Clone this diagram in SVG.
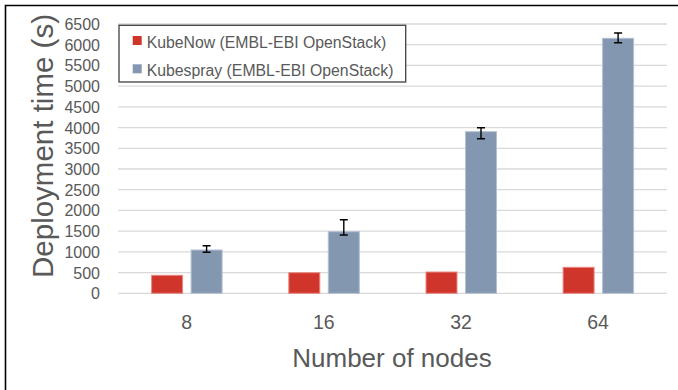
<svg xmlns="http://www.w3.org/2000/svg" width="678" height="390" viewBox="0 0 678 390">
<style>
.grid{stroke:#D9D9D9;stroke-width:1.3;fill:none}
.tick{font-family:"Liberation Sans",Arial,sans-serif;font-size:16px;fill:#595959;text-anchor:end}
.cat{font-family:"Liberation Sans",Arial,sans-serif;font-size:19.5px;fill:#595959;text-anchor:middle}
.title{font-family:"Liberation Sans",Arial,sans-serif;fill:#595959;text-anchor:middle}
.leg{font-family:"Liberation Sans",Arial,sans-serif;font-size:15.8px;fill:#595959}
.red{fill:#D0352B;stroke:#E98A83;stroke-width:1}
.blue{fill:#8497B0;stroke:#B3C0D1;stroke-width:1}
.err{stroke:#000;stroke-width:1.4;fill:none}
</style>
<rect x="0" y="0" width="678" height="390" fill="#fff"/>
<g id="frame">
<path d="M5.5 390 V5.5 H678" stroke="#000" stroke-width="1.6" fill="none"/>
</g>
<g id="gridlines">
<line class="grid" x1="118" x2="667" y1="293.3" y2="293.3"/>
<line class="grid" x1="118" x2="667" y1="272.6" y2="272.6"/>
<line class="grid" x1="118" x2="667" y1="251.9" y2="251.9"/>
<line class="grid" x1="118" x2="667" y1="231.2" y2="231.2"/>
<line class="grid" x1="118" x2="667" y1="210.4" y2="210.4"/>
<line class="grid" x1="118" x2="667" y1="189.7" y2="189.7"/>
<line class="grid" x1="118" x2="667" y1="169.0" y2="169.0"/>
<line class="grid" x1="118" x2="667" y1="148.3" y2="148.3"/>
<line class="grid" x1="118" x2="667" y1="127.6" y2="127.6"/>
<line class="grid" x1="118" x2="667" y1="106.9" y2="106.9"/>
<line class="grid" x1="118" x2="667" y1="86.1" y2="86.1"/>
<line class="grid" x1="118" x2="667" y1="65.4" y2="65.4"/>
<line class="grid" x1="118" x2="667" y1="44.7" y2="44.7"/>
<line class="grid" x1="118" x2="667" y1="24.0" y2="24.0"/>
</g>
<g id="y-ticks">
<text class="tick" x="100" y="299.3">0</text>
<text class="tick" x="100" y="278.6">500</text>
<text class="tick" x="100" y="257.9">1000</text>
<text class="tick" x="100" y="237.2">1500</text>
<text class="tick" x="100" y="216.4">2000</text>
<text class="tick" x="100" y="195.7">2500</text>
<text class="tick" x="100" y="175.0">3000</text>
<text class="tick" x="100" y="154.3">3500</text>
<text class="tick" x="100" y="133.6">4000</text>
<text class="tick" x="100" y="112.9">4500</text>
<text class="tick" x="100" y="92.1">5000</text>
<text class="tick" x="100" y="71.4">5500</text>
<text class="tick" x="100" y="50.7">6000</text>
<text class="tick" x="100" y="30.0">6500</text>
</g>
<g id="bars-kubenow">
<rect class="red" x="151.6" y="275.3" width="31" height="18"/>
<rect class="red" x="288.8" y="272.7" width="31" height="20.6"/>
<rect class="red" x="426" y="272" width="31" height="21.3"/>
<rect class="red" x="563.1" y="267.3" width="31" height="26"/>
</g>
<g id="bars-kubespray">
<rect class="blue" x="191.1" y="250" width="31" height="43.3"/>
<rect class="blue" x="328.3" y="231.7" width="31" height="61.6"/>
<rect class="blue" x="465.5" y="131.7" width="31" height="161.6"/>
<rect class="blue" x="602.6" y="38.3" width="31" height="255"/>
</g>
<g id="error-bars">
<path class="err" d="M206.6 245.7V252.3M202.6 245.7H210.6M202.6 252.3H210.6"/>
<path class="err" d="M343.8 219.7V235M339.8 219.7H347.8M339.8 235H347.8"/>
<path class="err" d="M481 127.7V138.7M477 127.7H485M477 138.7H485"/>
<path class="err" d="M618.1 33V42.7M614.1 33H622.1M614.1 42.7H622.1"/>
</g>
<g id="x-labels">
<text class="cat" x="186.6" y="329">8</text>
<text class="cat" x="323.8" y="329">16</text>
<text class="cat" x="461" y="329">32</text>
<text class="cat" x="598.1" y="329">64</text>
</g>
<g id="y-title">
<text class="title" font-size="29.5" transform="translate(53.3,146) rotate(-90)" x="0" y="0">Deployment time (s)</text>
</g>
<g id="x-title">
<text class="title" font-size="26" x="392" y="367">Number of nodes</text>
</g>
<g id="legend">
<rect x="119" y="25.3" width="286.7" height="56.7" fill="#fff" stroke="#404040" stroke-width="1.3"/>
<rect x="132.7" y="36" width="9" height="9" fill="#D0352B"/>
<text class="leg" x="146.7" y="47.7">KubeNow (EMBL-EBI OpenStack)</text>
<rect x="132.7" y="64.3" width="9" height="9" fill="#8497B0"/>
<text class="leg" x="146.7" y="76">Kubespray (EMBL-EBI OpenStack)</text>
</g>
</svg>
